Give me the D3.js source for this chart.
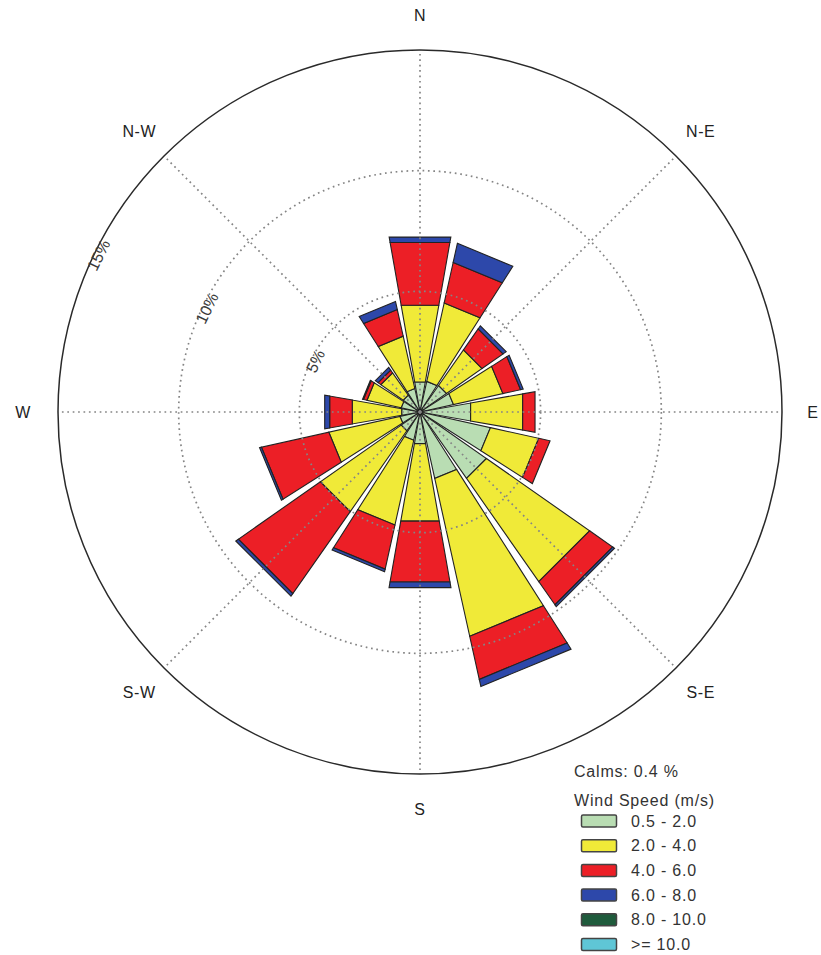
<!DOCTYPE html>
<html>
<head>
<meta charset="utf-8">
<script src="https://cdn.jsdelivr.net/npm/d3@7"></script>
<style>
  html, body { margin: 0; padding: 0; background: #fff; }
  svg { display: block; }
  text { font-family: "Liberation Sans", Arial, sans-serif; }
</style>
</head>
<body>
<svg id="rose" width="821" height="955"></svg>
<script>
// Wind directions (16 sectors, clockwise from north)
const directions = ["N","NNE","NE","ENE","E","ESE","SE","SSE","S","SSW","SW","WSW","W","WNW","NW","NNW"];
const bearings = directions.map((d, i) => i * 22.5);

// Frequency (%) of each speed class per direction
const speed05to2  = [1.26,1.30,1.34,1.42,2.13,2.99,3.36,2.82,1.33,1.20,0.95,0.85,0.77,0.80,0.85,1.00];
const speed2to4   = [3.23,3.33,1.80,2.10,2.19,2.05,5.22,6.70,3.26,3.60,4.09,3.02,2.08,1.45,1.13,2.22];
const speed4to6   = [2.64,1.72,1.06,0.75,0.52,0.48,1.17,1.83,2.56,1.87,4.15,2.86,0.95,0.15,0.14,1.13];
const speed6to8   = [0.23,0.81,0.16,0.11,0.00,0.00,0.09,0.30,0.24,0.11,0.13,0.08,0.21,0.04,0.14,0.34];
const speed8to10  = [0,0,0,0,0,0,0,0,0,0,0,0,0,0,0,0];
const speed10plus = [0,0,0,0,0,0,0,0,0,0,0,0,0,0,0,0];

const speedLabels = ["0.5 - 2.0","2.0 - 4.0","4.0 - 6.0","6.0 - 8.0","8.0 - 10.0",">= 10.0"];
const speedColors = ["#b9ddb3","#f0ea38","#ec1f26","#2d48aa","#1f5b3c","#5fc6d6"];
const speedSeries = [speed05to2, speed2to4, speed4to6, speed6to8, speed8to10, speed10plus];

const ringTicks = [5, 10, 15];
const compassLabels = ["N","N-E","E","S-E","S","S-W","W","N-W"];
const calms = 0.4;

const svg = d3.select("#rose");
const W = 821;
const cx = 420, cy = 412;
const r = d3.scaleLinear().domain([0, 15]).range([0, 362]);
const halfWidth = 10; // degrees either side of the sector centre

const g = svg.append("g").attr("transform", `translate(${cx},${cy})`);

// polar -> cartesian, bearing in degrees clockwise from north
const pt = (b, v) => {
  const a = b * Math.PI / 180;
  return [r(v) * Math.sin(a), -r(v) * Math.cos(a)];
};

// stacked sectors
const layers = [];
directions.forEach((d, i) => {
  let base = 0;
  speedSeries.forEach((s, k) => {
    const v = s[i];
    if (v > 0) layers.push({ b: bearings[i], lo: base, hi: base + v, k });
    base += v;
  });
});

g.append("g").selectAll("path")
  .data(layers)
  .join("path")
  .attr("d", d => {
    const p = [pt(d.b - halfWidth, d.lo), pt(d.b - halfWidth, d.hi),
               pt(d.b + halfWidth, d.hi), pt(d.b + halfWidth, d.lo)];
    return d3.line()(p) + "Z";
  })
  .attr("fill", d => speedColors[d.k])
  .attr("stroke", "#222")
  .attr("stroke-width", 1.1)
  .attr("stroke-linejoin", "miter");

// grid on top of the sectors
const grid = g.append("g").attr("fill", "none");
grid.selectAll("line.spoke")
  .data(d3.range(0, 360, 45))
  .join("line")
  .attr("class", "spoke")
  .attr("x1", 0).attr("y1", 0)
  .attr("x2", b => pt(b, 15)[0])
  .attr("y2", b => pt(b, 15)[1])
  .attr("stroke", "#858585")
  .attr("stroke-width", 1.7)
  .attr("stroke-dasharray", "1.7 3.7");

grid.selectAll("circle.ring")
  .data(ringTicks.slice(0, -1))
  .join("circle")
  .attr("class", "ring")
  .attr("r", d => r(d))
  .attr("stroke", "#858585")
  .attr("stroke-width", 1.7)
  .attr("stroke-dasharray", "1.7 3.7");

grid.append("circle")
  .attr("r", r(ringTicks[ringTicks.length - 1]))
  .attr("stroke", "#2a2a2a")
  .attr("stroke-width", 1.5);

// ring labels along the circle, upper-left
const labelBearing = 296;
g.selectAll("text.ringlab")
  .data(ringTicks)
  .join("text")
  .attr("class", "ringlab")
  .attr("transform", d => {
    const [x, y] = pt(labelBearing, d);
    const k = (r(d) - 4.5) / r(d);
    return `translate(${x * k},${y * k}) rotate(${labelBearing - 360})`;
  })
  .attr("text-anchor", "middle")
  .attr("dominant-baseline", "central")
  .attr("font-size", 16)
  .attr("fill", "#3a3a3a")
  .text(d => d + "%");

// compass labels (kept inside the page's right edge)
const labelR = 397;
g.selectAll("text.compass")
  .data(compassLabels)
  .join("text")
  .attr("class", "compass")
  .attr("x", (d, i) => Math.min(labelR * Math.sin(i * Math.PI / 4), W - cx - 8))
  .attr("y", (d, i) => -labelR * Math.cos(i * Math.PI / 4))
  .attr("text-anchor", "middle")
  .attr("dominant-baseline", "central")
  .attr("font-size", 16)
  .attr("letter-spacing", 0.6)
  .attr("fill", "#222")
  .text(d => d);

// legend
const leg = svg.append("g").attr("transform", "translate(574,0)");
leg.append("text")
  .attr("x", 0).attr("y", 777)
  .attr("font-size", 16).attr("letter-spacing", 0.8).attr("fill", "#333")
  .text(`Calms: ${calms} %`);
leg.append("text")
  .attr("x", 0).attr("y", 806)
  .attr("font-size", 16).attr("letter-spacing", 0.8).attr("fill", "#333")
  .text("Wind Speed (m/s)");

const row = d3.scaleLinear().domain([0, 1]).range([815, 839.7]);
const items = leg.selectAll("g.item")
  .data(speedLabels)
  .join("g")
  .attr("class", "item")
  .attr("transform", (d, i) => `translate(0,${row(i)})`);
items.append("rect")
  .attr("x", 7.5).attr("y", 0)
  .attr("width", 35).attr("height", 12)
  .attr("rx", 1.5)
  .attr("fill", (d, i) => speedColors[i])
  .attr("stroke", "#444")
  .attr("stroke-width", 1.5);
items.append("text")
  .attr("x", 57).attr("y", 11.5)
  .attr("font-size", 16).attr("letter-spacing", 0.8).attr("fill", "#333")
  .text(d => d);
</script>
</body>
</html>
